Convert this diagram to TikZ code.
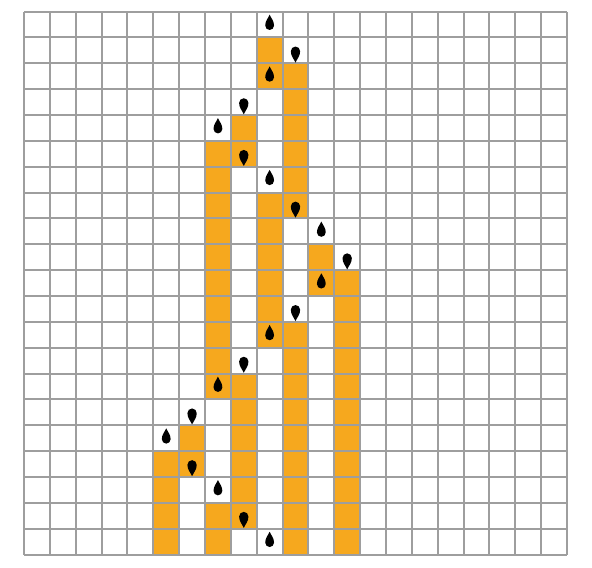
\documentclass[tikz,border=0pt]{standalone}
\definecolor{cellorange}{RGB}{246,168,30}
\definecolor{gridgray}{RGB}{158,158,158}
\tikzset{
  dropup/.pic={\fill (0,0) to[out=-65,in=90] (0.085,-0.21) arc[start angle=0,end angle=-180,radius=0.085] to[out=90,in=-115] (0,0);},
  dropdown/.pic={\fill (0,0) to[out=65,in=-90] (0.09,0.22) arc[start angle=0,end angle=180,radius=0.09] to[out=-90,in=115] (0,0);}
}
\begin{document}
\begin{tikzpicture}[scale=0.5]
\useasboundingbox (-0.93,0.45) rectangle (21.97,-21.52);
% filled cells: column/first row/last row
\foreach \c/\a/\b in {5/17/20,6/16/17,7/5/14,7/19/20,8/4/5,8/14/19,9/1/2,9/7/12,10/2/7,10/12/20,11/9/10,12/10/20}
  \fill[cellorange] (\c,-\a) rectangle (\c+1,-\b-1);
\draw[gridgray,line width=1.1pt] (0,0) grid (21,-21);
% drops
\foreach \c/\r in {9/0,9/2,7/4,9/6,11/8,11/10,9/12,7/14,5/16,7/18,9/20}
  \pic at (\c+0.5,-\r-0.12) {dropup};
\foreach \c/\r in {10/1,8/3,8/5,10/7,12/9,10/11,8/13,6/15,6/17,8/19}
  \pic at (\c+0.5,-\r-0.97) {dropdown};
\end{tikzpicture}
\end{document}
